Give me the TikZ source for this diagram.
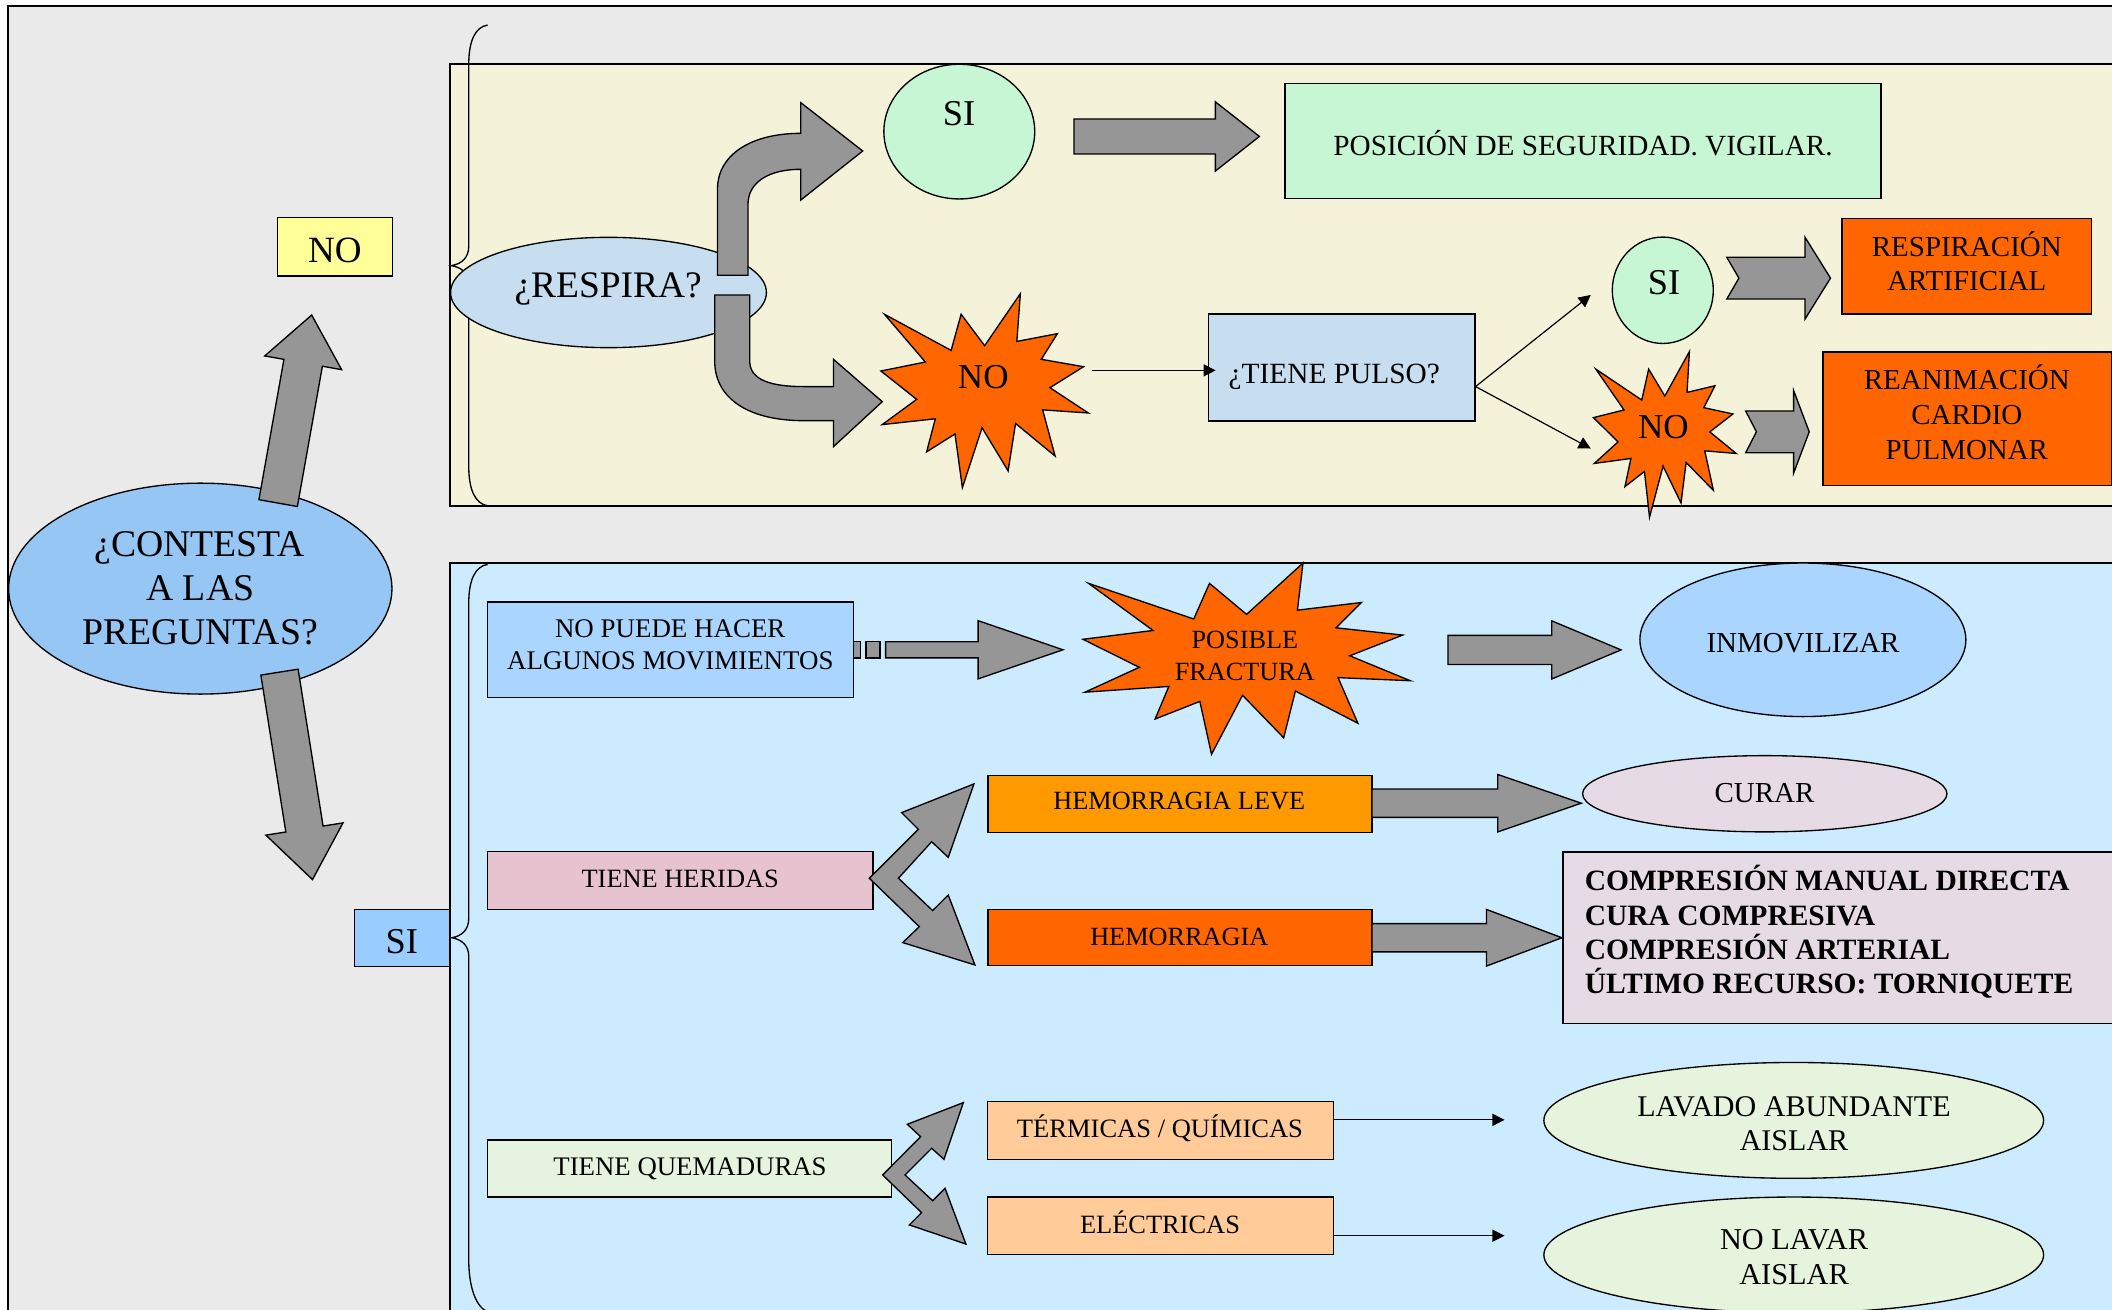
\documentclass[tikz,border=0pt]{standalone}
\usepackage{fontspec}
\setmainfont{Liberation Serif}
\usetikzlibrary{calc,shapes.geometric,arrows.meta}

\definecolor{bggray}{HTML}{EAEAEA}
\definecolor{panelY}{HTML}{F4F3DA}
\definecolor{panelB}{HTML}{CCEBFF}
\definecolor{yel}{HTML}{FFFF99}
\definecolor{contB}{HTML}{96C6F4}
\definecolor{siBlue}{HTML}{99CCFF}
\definecolor{respB}{HTML}{C6DEF0}
\definecolor{grn}{HTML}{C6F6D4}
\definecolor{orng}{HTML}{FF6600}
\definecolor{npB}{HTML}{AAD5FF}
\definecolor{herP}{HTML}{E6C3CF}
\definecolor{hlev}{HTML}{FF9900}
\definecolor{cur}{HTML}{E6DAE4}
\definecolor{quem}{HTML}{E6F3DE}
\definecolor{term}{HTML}{FFCC99}
\definecolor{lav}{HTML}{E6F4DE}
\definecolor{arrowgray}{HTML}{969696}

\tikzset{
  bx/.style={draw=black, line width=1pt, rectangle, inner sep=0pt},
  el/.style={draw=black, line width=1pt, ellipse, inner sep=0pt},
  garrow/.style={draw=black, line width=1pt, fill=arrowgray, line join=miter},
  starshape/.style={draw=black, line width=1pt, fill=orng, line join=miter},
  lbl/.style={inner sep=0pt, text height=#1pt*0.655, text depth=0pt, font=\fontsize{#1}{#1}\selectfont},
  blbl/.style={inner sep=0pt, text height=#1pt*0.655, text depth=0pt, font=\fontsize{#1}{#1}\selectfont\bfseries, anchor=west},
  thinarrow/.style={line width=0.9pt, -{Triangle[length=9pt,width=9pt]}},
  brace/.style={line width=1pt},
}

% block arrow: tail, tip, half shaft, half head, head length
\newcommand\blockarr[5]{%
  \path ($(#2)!#5!(#1)$) coordinate (bH);
  \draw[garrow] ($(#1)!#3!90:(#2)$) -- ($(bH)!#3!90:(#2)$) -- ($(bH)!#4!90:(#2)$) -- (#2)
    -- ($(bH)!#4!-90:(#2)$) -- ($(bH)!#3!-90:(#2)$) -- ($(#1)!#3!-90:(#2)$) -- cycle;}
% notched block arrow: tail, tip, half shaft, half head, head length, notch depth
\newcommand\notcharr[6]{%
  \path ($(#2)!#5!(#1)$) coordinate (bH);
  \draw[garrow] ($(#1)!#3!90:(#2)$) -- ($(bH)!#3!90:(#2)$) -- ($(bH)!#4!90:(#2)$) -- (#2)
    -- ($(bH)!#4!-90:(#2)$) -- ($(bH)!#3!-90:(#2)$) -- ($(#1)!#3!-90:(#2)$) -- ($(#1)!#6!(#2)$) -- cycle;}
% explosion shape in box x0,y0,w,h
\newcommand\explosion[5]{%
  \coordinate (#1) at (#2+#4/2,#3+#5/2);
  \begin{scope}[shift={(#2,#3)}, xscale=#4/100, yscale=#5/100]
  \draw[starshape] (50,26.85) -- (67.23,0) -- (65.53,24.65) -- (85.09,20.63) -- (77.32,33.87)
   -- (97.67,37.67) -- (81.51,48.50) -- (100,61.53) -- (77.95,59.92) -- (84.00,83.77)
   -- (64.91,66.93) -- (61.33,91.38) -- (48.76,69.14) -- (39.28,100) -- (35.72,72.35)
   -- (22.05,81.56) -- (26.24,64.52) -- (0.625,67.53) -- (17.23,54.51) -- (0,39.88)
   -- (21.42,35.26) -- (1.71,10.63) -- (33.85,29.26) -- (38.67,10.63) -- cycle;
  \end{scope}}

\begin{document}
\begin{tikzpicture}[x=1pt,y=-1pt]
\useasboundingbox (0,0) rectangle (1568,972);
\clip (0,0) rectangle (1568,972);
\fill[white] (0,0) rectangle (1568,972);

% frame and panels
\draw[line width=1.3pt, fill=bggray] (6,4.5) rectangle (1620,1000);
\draw[line width=1.3pt, fill=panelY] (334,47.5) rectangle (1620,375.5);
\draw[line width=1.3pt, fill=panelB] (334,418.2) rectangle (1620,1000);

% braces
\draw[brace] (362,18.6) .. controls (353,20) and (348,30) .. (348,48) -- (348,183)
  .. controls (348,191) and (343,196) .. (335,197.2) .. controls (343,198.5) and (348,203) .. (348,211)
  -- (348,346) .. controls (348,364) and (353,374) .. (362,375.5);
\draw[brace] (362,419) .. controls (353,420.5) and (348,430) .. (348,448) -- (348,682)
  .. controls (348,690) and (343,695) .. (335.4,696.2) .. controls (343,697.5) and (348,702) .. (348,710)
  -- (348,935) .. controls (348,955) and (353,970) .. (362,974);

% ===== left nodes
\node[bx, fill=yel, minimum width=85.6pt, minimum height=43.3pt] (noBox) at (248.7,183.3) {};
\node[el, fill=contB, minimum width=284.6pt, minimum height=156.6pt] (contesta) at (148.7,437) {};
\node[bx, fill=siBlue, minimum width=70.7pt, minimum height=42.5pt] (siBox) at (298.35,696.25) {};

\coordinate (a1t) at (206.5,373.5); \coordinate (a1h) at (231.4,233.9);
\blockarr{a1t}{a1h}{14.5pt}{29pt}{36pt}
\coordinate (a2t) at (207.5,499); \coordinate (a2h) at (232,653);
\blockarr{a2t}{a2h}{14pt}{29pt}{38pt}

% ===== top panel
\node[el, fill=respB, minimum width=234.5pt, minimum height=81.9pt] (respira) at (451.75,217.15) {};
\node[el, fill=grn, minimum width=112pt, minimum height=100pt] (siA) at (712.2,97.7) {};
\node[bx, fill=grn, minimum width=442.6pt, minimum height=85.5pt] (posic) at (1175.3,104.75) {};
\explosion{noA}{654}{218}{154}{144}
\node[bx, fill=respB, minimum width=198pt, minimum height=79.5pt] (pulso) at (996,272.75) {};
\node[el, fill=grn, minimum width=75pt, minimum height=79pt] (siB) at (1234.5,215.5) {};
\explosion{noB}{1183}{261}{106}{123}
\node[bx, fill=orng, minimum width=185.5pt, minimum height=71pt] (resp) at (1460.25,197.5) {};
\node[bx, fill=orng, minimum width=214.2pt, minimum height=99.3pt] (rean) at (1460.6,310.95) {};

% curved arrows from respira
\draw[garrow] (532.7,204.4) -- (532.7,140) .. controls (532.7,116) and (556,99) .. (594.5,99)
  -- (594.5,76.2) -- (640.5,112.1) -- (594.5,148.5) -- (594.5,125.7)
  .. controls (571,125.7) and (555.3,135) .. (555.3,152) -- (555.3,204.4) -- cycle;
\draw[garrow] (530.6,219) -- (530.6,268) .. controls (530.6,296) and (556,312.3) .. (596.6,312.3)
  -- (618.8,312.3) -- (618.8,331.6) -- (655,298.2) -- (618.8,266.8) -- (618.8,287) -- (596.6,287)
  .. controls (572,287) and (556.6,282) .. (556.6,268) -- (556.6,219) -- cycle;

\coordinate (a3t) at (797.3,101.3); \coordinate (a3h) at (935,101.3);
\blockarr{a3t}{a3h}{13pt}{25.7pt}{32.7pt}
\coordinate (a4t) at (1282,206.5); \coordinate (a4h) at (1359,206.5);
\notcharr{a4t}{a4h}{15.5pt}{30.5pt}{19pt}{9pt}
\coordinate (a5t) at (1296,320.6); \coordinate (a5h) at (1343.2,320.6);
\notcharr{a5t}{a5h}{15.5pt}{30.7pt}{11.6pt}{8pt}

\coordinate (noAr) at (811,275);
\draw[thinarrow, shorten >=-6pt] (noAr) -- (noAr -| pulso.west);
\coordinate (pOut) at (1095.5,287);
\coordinate (siBin) at (1181,219);
\coordinate (noBin) at (1181,333);
\draw[thinarrow] (pOut) -- (siBin);
\draw[thinarrow] (pOut) -- (noBin);

% ===== bottom panel
\node[bx, fill=npB, minimum width=271.7pt, minimum height=71pt] (nopuede) at (497.85,482.5) {};
\explosion{fract}{804}{418}{243}{142}
\node[el, fill=npB, minimum width=242pt, minimum height=114pt] (inmov) at (1338.5,475) {};
\node[bx, fill=herP, minimum width=286pt, minimum height=42.7pt] (heridas) at (505,653.65) {};
\node[bx, fill=hlev, minimum width=285pt, minimum height=42.5pt] (hleve) at (876,596.75) {};
\node[el, fill=cur, minimum width=270.5pt, minimum height=56.6pt] (curar) at (1310.2,589.3) {};
\node[bx, fill=orng, minimum width=285pt, minimum height=42pt] (hemo) at (876,696) {};
\node[bx, fill=cur, minimum width=439.5pt, minimum height=127.5pt] (compr) at (1380.25,696.25) {};
\node[bx, fill=quem, minimum width=300pt, minimum height=42.3pt] (quema) at (512,867.45) {};
\node[bx, fill=term, minimum width=256.6pt, minimum height=43pt] (termq) at (861.5,839.1) {};
\node[bx, fill=term, minimum width=256.6pt, minimum height=42.9pt] (elec) at (861.5,910.05) {};
\node[el, fill=lav, minimum width=371pt, minimum height=86pt] (lavado) at (1331.7,831.8) {};
\node[el, fill=lav, minimum width=371pt, minimum height=86pt] (nolavar) at (1331.7,931.7) {};

% striped arrow
\draw[garrow] (633.5,476.4) rectangle (639,488.6);
\draw[garrow] (643,476.4) rectangle (653.3,488.6);
\coordinate (a6t) at (657.5,482.4); \coordinate (a6h) at (789.2,482.4);
\blockarr{a6t}{a6h}{6pt}{21.6pt}{63pt}

\coordinate (a7t) at (1075,482.5); \coordinate (a7h) at (1203.5,482.5);
\blockarr{a7t}{a7h}{10.8pt}{21.6pt}{51.5pt}
\coordinate (a8t) at (1018.5,596.3); \coordinate (a8h) at (1174,596.3);
\blockarr{a8t}{a8h}{10.5pt}{21.3pt}{62pt}
\coordinate (a9t) at (1018.5,696.2); \coordinate (a9h) at (1159.6,696.2);
\blockarr{a9t}{a9h}{10.5pt}{21pt}{56pt}

% zigzag double arrows
\draw[garrow] (645.4,652) -- (681.8,615.7) -- (669.4,603.3) -- (723.1,582) -- (704,636.5)
  -- (691.7,624.9) -- (667,652) -- (692.4,676) -- (704,664.5) -- (723.8,716.4)
  -- (670.2,699.8) -- (682.5,688) -- cycle;
\draw[garrow] (655.3,872.3) -- (683.5,843.9) -- (673.6,834.7) -- (715.2,818.6) -- (700.8,860.7)
  -- (691.7,852.5) -- (671.9,872.3) -- (692.4,891.4) -- (701.6,882.2) -- (717.1,923.6)
  -- (675.1,909.4) -- (684.2,900.3) -- cycle;

\coordinate (tOut) at (989.8,831.4); \coordinate (tIn) at (1117,831.4);
\draw[thinarrow] (tOut) -- (tIn);
\coordinate (eOut) at (989.8,917.4); \coordinate (eIn) at (1117,917.4);
\draw[thinarrow] (eOut) -- (eIn);

% ===== texts
\node[lbl=27.5] (tNO) at (248.7,186) {NO};
\node[lbl=28] (tC1) at (148.3,404.2) {¿CONTESTA};
\node[lbl=28] (tC2) at (148.7,436.5) {A LAS};
\node[lbl=28] (tC3) at (148.5,469) {PREGUNTAS?};
\node[lbl=27] (tSI) at (298.3,699.3) {SI};
\node[lbl=27.8] (tResp) at (451.5,212) {¿RESPIRA?};
\node[lbl=27] (tSIa) at (712,84.5) {SI};
\node[lbl=21.7] (tPos) at (1175.3,108.6) {POSICIÓN DE SEGURIDAD. VIGILAR.};
\node[lbl=26] (tNOa) at (730,280) {NO};
\node[lbl=21.8] (tPul) at (990.6,277.7) {¿TIENE PULSO?};
\node[lbl=27] (tSIb) at (1235.4,209.7) {SI};
\node[lbl=26] (tNOb) at (1235,317.4) {NO};
\node[lbl=21.5] (tR1) at (1460.2,183.1) {RESPIRACIÓN};
\node[lbl=21.5] (tR2) at (1460.2,208.8) {ARTIFICIAL};
\node[lbl=21.5] (tRC1) at (1460.2,282.3) {REANIMACIÓN};
\node[lbl=21.5] (tRC2) at (1460.2,308.1) {CARDIO};
\node[lbl=21.5] (tRC3) at (1460.2,334.1) {PULMONAR};
\node[lbl=20] (tNP1) at (497.6,466.7) {NO PUEDE HACER};
\node[lbl=20] (tNP2) at (497.7,490.3) {ALGUNOS MOVIMIENTOS};
\node[lbl=19.5] (tF1) at (924.2,475.4) {POSIBLE};
\node[lbl=19.5] (tF2) at (924.2,498.9) {FRACTURA};
\node[lbl=21.5] (tInm) at (1338.6,477.6) {INMOVILIZAR};
\node[lbl=19.6] (tHer) at (505,652.4) {TIENE HERIDAS};
\node[lbl=19.5] (tHL) at (875.5,594.9) {HEMORRAGIA LEVE};
\node[lbl=21.5] (tCur) at (1310,588.5) {CURAR};
\node[lbl=19.5] (tHem) at (875.5,695.4) {HEMORRAGIA};
\node[blbl=21.9] (tB1) at (1176.4,654.1) {COMPRESIÓN MANUAL DIRECTA};
\node[blbl=21.9] (tB2) at (1176.4,679.7) {CURA COMPRESIVA};
\node[blbl=21.9] (tB3) at (1176.4,705.1) {COMPRESIÓN ARTERIAL};
\node[blbl=21.9] (tB4) at (1176.4,730.2) {ÚLTIMO RECURSO: TORNIQUETE};
\node[lbl=19.9] (tQ) at (512.3,866.1) {TIENE QUEMADURAS};
\node[lbl=19.7] (tT) at (861.2,837.8) {TÉRMICAS / QUÍMICAS};
\node[lbl=19.6] (tE) at (861.2,909.1) {ELÉCTRICAS};
\node[lbl=22.3] (tL1) at (1331.9,821.3) {LAVADO ABUNDANTE};
\node[lbl=22.3] (tL2) at (1331.9,846.7) {AISLAR};
\node[lbl=22.5] (tN1) at (1331.9,920.3) {NO LAVAR};
\node[lbl=22.5] (tN2) at (1331.9,946.5) {AISLAR};
\end{tikzpicture}
\end{document}
